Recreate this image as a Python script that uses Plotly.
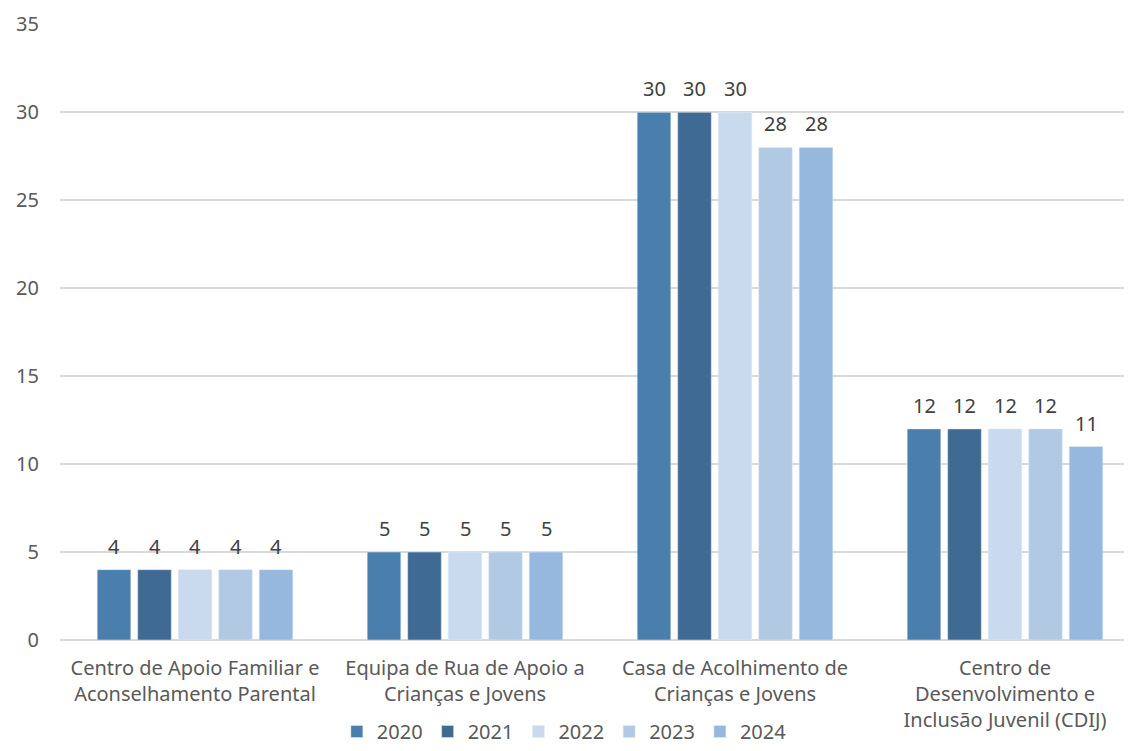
import plotly.graph_objects as go

categories = [
    "Centro de Apoio Familiar e<br>Aconselhamento Parental",
    "Equipa de Rua de Apoio a<br>Crianças e Jovens",
    "Casa de Acolhimento de<br>Crianças e Jovens",
    "Centro de<br>Desenvolvimento e<br>Inclusão Juvenil (CDIJ)",
]
years = ["2020", "2021", "2022", "2023", "2024"]
v2020 = [4, 5, 30, 12]
v2021 = [4, 5, 30, 12]
v2022 = [4, 5, 30, 12]
v2023 = [4, 5, 28, 12]
v2024 = [4, 5, 28, 11]
series = [v2020, v2021, v2022, v2023, v2024]
colors = ["#4A7EAD", "#3E6A94", "#C9D9EE", "#B2C9E4", "#97B8DE"]

font_family = "Noto Sans, Open Sans, sans-serif"
fs = 20
bargap = 0.25

fig = go.Figure()
for name, vals, col in zip(years, series, colors):
    fig.add_trace(go.Bar(
        name=name, x=categories, y=vals, marker_color=col,
    ))

# value labels above bars, placed at each bar's slot centre
n = len(series)
slot = (1 - bargap) / n
for i, vals in enumerate(series):
    for j, v in enumerate(vals):
        fig.add_annotation(
            x=j - (1 - bargap) / 2 + slot * (i + 0.5), y=v, xref="x", yref="y",
            text=str(v), showarrow=False, yanchor="bottom", yshift=8,
            font=dict(size=fs, color="#404040", family=font_family),
        )

fig.update_layout(
    width=1132, height=743,
    margin=dict(l=52, r=0, t=16, b=111, autoexpand=False),
    paper_bgcolor="white", plot_bgcolor="white",
    barmode="group", bargap=bargap, bargroupgap=0.17,
    font=dict(family=font_family, size=fs, color="#595959"),
    legend=dict(orientation="h", x=0.467, xanchor="center", y=0, yref="container",
                yanchor="bottom",
                font=dict(size=fs, color="#595959"), tracegroupgap=0),
    showlegend=True,
)
fig.update_yaxes(range=[0, 35.02], dtick=5, showgrid=True, gridcolor="#D9D9D9", gridwidth=1.5,
                 zeroline=True, zerolinecolor="#D9D9D9", zerolinewidth=1.5,
                 tickfont=dict(size=fs, color="#595959"), ticks="", ticklabelstandoff=20,
                 automargin=False)
fig.update_xaxes(tickfont=dict(size=fs, color="#595959"), showline=False, ticks="",
                 ticklabelstandoff=14, automargin=False)

fig.write_html("out.html")
